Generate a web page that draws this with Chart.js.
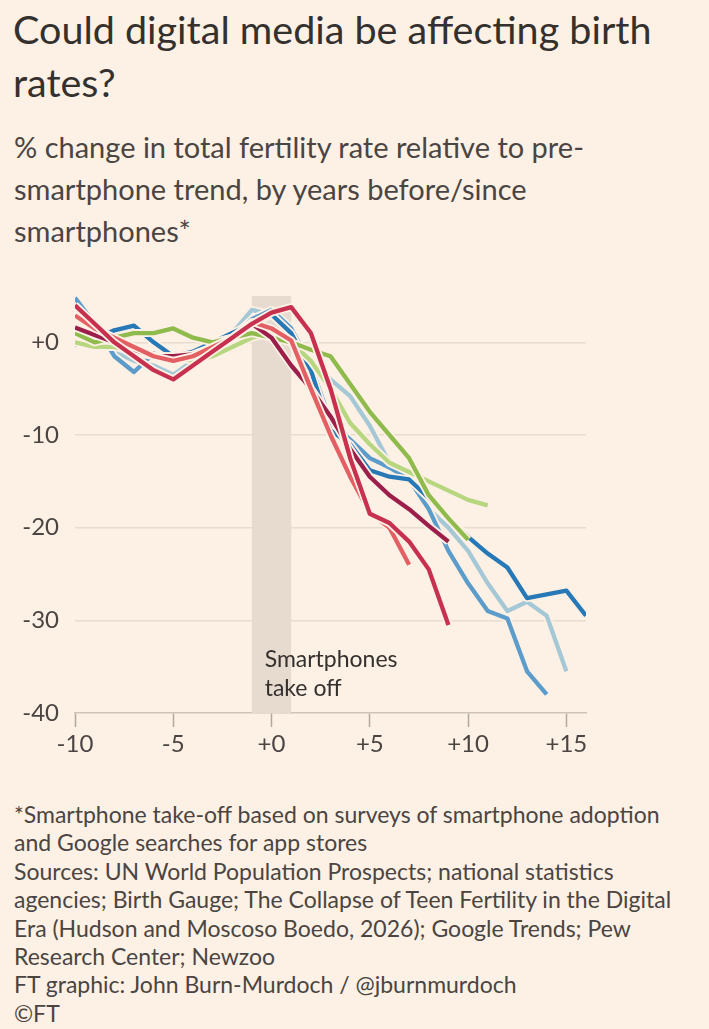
<!DOCTYPE html>
<html>
<head>
<meta charset="utf-8">
<script src="https://cdn.jsdelivr.net/npm/chart.js@4.4.1/dist/chart.umd.min.js"></script>
<style>
    body { margin: 0; background: #fdf0e4; width: 709px; height: 1029px; overflow: hidden; position: relative; font-family: Lato, "Noto Sans", sans-serif; color: #33302e; }
    #title { position: absolute; left: 13px; top: 2px; width: 696px; font-size: 39.5px; line-height: 53px; white-space: nowrap; }
    #subtitle { position: absolute; left: 14px; top: 126px; width: 690px; font-size: 29px; line-height: 42px; color: #4a4542; white-space: nowrap; }
    #chartBox { position: absolute; left: 0; top: 280px; width: 600px; height: 490px; }
    #notes { position: absolute; left: 14px; top: 800px; width: 695px; font-size: 23px; line-height: 28.4px; color: #4a4542; white-space: nowrap; }
</style>
</head>
<body>
<div id="title">Could digital media be affecting birth<br>rates?</div>
<div id="subtitle">% change in total fertility rate relative to pre-<br>smartphone trend, by years before/since<br>smartphones*</div>
<div id="chartBox"><canvas id="fertChart"></canvas></div>
<div id="notes">
    *Smartphone take-off based on surveys of smartphone adoption<br>
    and Google searches for app stores<br>
    Sources: UN World Population Prospects; national statistics<br>
    agencies; Birth Gauge; The Collapse of Teen Fertility in the Digital<br>
    Era (Hudson and Moscoso Boedo, 2026); Google Trends; Pew<br>
    Research Center; Newzoo<br>
    FT graphic: John Burn-Murdoch / @jburnmurdoch<br>
    ©FT
</div>

<script>
// ===== Data =====
const years = [-10, -9, -8, -7, -6, -5, -4, -3, -2, -1, 0, 1, 2, 3, 4, 5, 6, 7, 8, 9, 10, 11, 12, 13, 14, 15, 16];

const darkBlue   = [-0.3, 0.3, 1.3, 1.8, 0, -1.5, -1, 0, 1, 2, 3, 1, -3, -9.5, -11, -13.8, -14.5, -14.8, -16.8, -19, -21, -22.8, -24.3, -27.6, -27.2, -26.8, -29.5];
const midBlue    = [4.8, 2, -1.5, -3.2, -1.2, -2, -1.5, -0.5, 0.5, 2.5, 3.5, 1.5, -2.5, -8.5, -10.5, -12.5, -13.5, -14.8, -18, -22.5, -26, -29, -29.8, -35.5, -38];
const paleBlue   = [1, 0, -1, -2, -2.5, -3.5, -2, -1, 1, 3.5, 3, 1, -2, -4, -5.8, -9, -13, -15, -18, -20, -22.5, -26, -29, -28, -29.5, -35.5];
const green      = [1, 0, 0.5, 1, 1, 1.5, 0.5, 0, 0.5, 1, 0.5, 0, -0.8, -1.5, -4.5, -7.5, -10, -12.5, -16.5, -19, -21.3];
const lightGreen = [0, -0.5, -0.5, -1, -1.5, -1.5, -2, -1.5, -0.5, 0.5, 1, 0, -2, -5, -8.7, -11, -13, -14, -15, -16, -17, -17.6];
const maroon     = [1.6, 0.8, 0, -0.8, -1.5, -1.5, -1.3, -0.5, 0.5, 2, 0.5, -2.5, -5, -8, -11.5, -14.5, -16.5, -18, -19.8, -21.5];
const crimson    = [4, 2, 0, -1.5, -3, -4, -2.5, -1, 0.5, 2, 3.2, 3.8, 1, -5, -12.5, -18.5, -19.5, -21.5, -24.5, -30.5];
const pinkRed    = [2.9, 1.5, 0.5, -0.5, -1.5, -2, -1.5, -0.5, 0.5, 2.2, 1.5, 0.2, -5, -10, -14.5, -18.4, -20, -24];

const xTicks = [-10, -5, 0, 5, 10, 15];
const xTickLabels = ['-10', '-5', '+0', '+5', '+10', '+15'];
const yTicks = [-40, -30, -20, -10, 0];
const yTickLabels = ['-40', '-30', '-20', '-10', '+0'];

const takeOffStart = -1;
const takeOffEnd = 1;

// ===== Estilos =====
const BG = '#fdf0e4';
const INK = '#4a4542';
const FONT = 'Lato, "Noto Sans", sans-serif';

// bottom of list is drawn on top
const seriesList = [
    { data: paleBlue,   color: '#a5c8d6' },
    { data: midBlue,    color: '#5c9ccb' },
    { data: darkBlue,   color: '#2678b6' },
    { data: lightGreen, color: '#b6d680' },
    { data: green,      color: '#8fba4c' },
    { data: maroon,     color: '#9c1f4b' },
    { data: pinkRed,    color: '#e35f64' },
    { data: crimson,    color: '#c7304f' }
];

function toPoints(values) {
    return values.map((v, i) => ({ x: years[i], y: v }));
}

let datasets = [];
seriesList.forEach(s => {
    datasets.push({
        data: toPoints(s.data),
        borderColor: BG,
        borderWidth: 8,
        pointRadius: 0,
        tension: 0,
        borderJoinStyle: 'round'
    });
    datasets.push({
        data: toPoints(s.data),
        borderColor: s.color,
        borderWidth: 4.3,
        pointRadius: 0,
        tension: 0,
        borderJoinStyle: 'round'
    });
});
// Chart.js draws index 0 last (on top)
datasets = datasets.reverse();

// ===== Faixa "Smartphones take off" =====
const takeOffPlugin = {
    id: 'takeOff',
    beforeDatasetsDraw(chart) {
        const { ctx, chartArea, scales } = chart;
        const x1 = scales.x.getPixelForValue(takeOffStart);
        const x2 = scales.x.getPixelForValue(takeOffEnd);
        ctx.save();
        ctx.fillStyle = '#e7dbd0';
        ctx.fillRect(x1, chartArea.top, x2 - x1, chartArea.bottom - chartArea.top);
        ctx.restore();
    },
    afterDatasetsDraw(chart) {
        const { ctx, scales } = chart;
        const x = scales.x.getPixelForValue(-0.35);
        ctx.save();
        ctx.fillStyle = '#33302e';
        ctx.font = '23px ' + FONT;
        ctx.textBaseline = 'middle';
        ctx.fillText('Smartphones', x, scales.y.getPixelForValue(-34.2));
        ctx.fillText('take off', x, scales.y.getPixelForValue(-37.4));
        ctx.restore();
    }
};

const ctx = document.getElementById('fertChart').getContext('2d');
new Chart(ctx, {
    type: 'line',
    data: { datasets },
    options: {
        responsive: true,
        maintainAspectRatio: false,
        animation: false,
        layout: { padding: { top: 16, right: 14, left: 0, bottom: 0 } },
        plugins: {
            legend: { display: false },
            tooltip: { enabled: false }
        },
        scales: {
            x: {
                type: 'linear',
                min: -10,
                max: 16,
                afterBuildTicks: axis => { axis.ticks = xTicks.map(v => ({ value: v })); },
                afterFit: axis => { axis.height = 57; },
                ticks: {
                    color: INK,
                    font: { size: 24, family: FONT },
                    padding: 3,
                    maxRotation: 0,
                    callback: v => xTickLabels[xTicks.indexOf(v)]
                },
                grid: {
                    drawOnChartArea: false,
                    drawTicks: true,
                    tickLength: 14,
                    tickWidth: 1.5,
                    tickColor: '#b3a89e'
                },
                border: { display: true, color: '#cfc3b8', width: 1.5 }
            },
            y: {
                type: 'linear',
                min: -40,
                max: 5,
                afterBuildTicks: axis => { axis.ticks = yTicks.map(v => ({ value: v })); },
                afterFit: axis => {
                    axis.width = 75;
                    axis.paddingTop = 0;
                    axis.paddingBottom = 0;
                },
                ticks: {
                    color: INK,
                    font: { size: 24, family: FONT },
                    padding: 16,
                    callback: v => yTickLabels[yTicks.indexOf(v)]
                },
                grid: {
                    drawTicks: false,
                    lineWidth: 1.5,
                    color: c => (c.tick && c.tick.value === -40) ? 'rgba(0,0,0,0)' : '#e8dbcf'
                },
                border: { display: false }
            }
        }
    },
    plugins: [takeOffPlugin]
});
</script>
</body>
</html>
